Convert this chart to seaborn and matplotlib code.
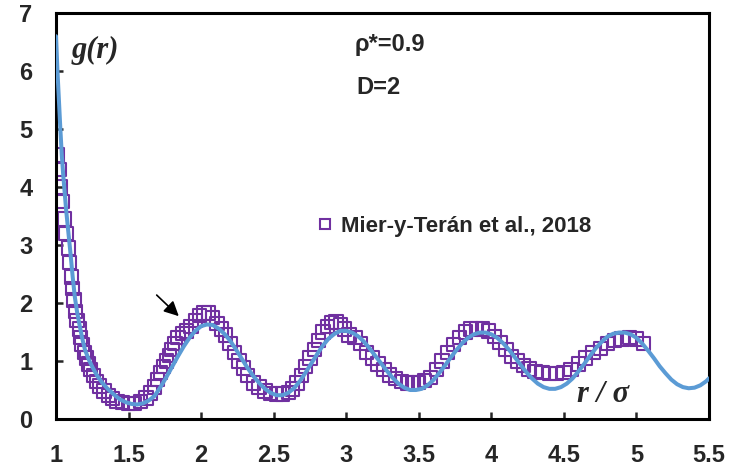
import numpy as np
import pandas as pd
import matplotlib
matplotlib.use("Agg")
import matplotlib.pyplot as plt
import seaborn as sns
from matplotlib.lines import Line2D

# Theory curve (blue line)
r_line = [1.00, 1.01, 1.02, 1.03, 1.04, 1.05, 1.06, 1.07, 1.08, 1.09, 1.10, 1.115, 1.13,
          1.145, 1.16, 1.18, 1.20, 1.225, 1.25, 1.285, 1.32, 1.36, 1.40, 1.44, 1.48,
          1.52, 1.56, 1.60, 1.64, 1.68, 1.72, 1.76, 1.80, 1.84, 1.88, 1.92, 1.96, 2.00,
          2.04, 2.08, 2.12, 2.16, 2.20, 2.24, 2.28, 2.32, 2.36, 2.40, 2.44, 2.48, 2.52,
          2.56, 2.60, 2.64, 2.68, 2.72, 2.76, 2.80, 2.84, 2.88, 2.92, 2.96, 3.00, 3.04,
          3.08, 3.12, 3.16, 3.20, 3.24, 3.28, 3.32, 3.36, 3.40, 3.44, 3.48, 3.52, 3.56,
          3.60, 3.64, 3.68, 3.72, 3.76, 3.80, 3.84, 3.88, 3.92, 3.96, 4.00, 4.04, 4.08,
          4.12, 4.16, 4.20, 4.24, 4.28, 4.32, 4.36, 4.40, 4.44, 4.48, 4.52, 4.56, 4.60,
          4.64, 4.68, 4.72, 4.76, 4.80, 4.84, 4.88, 4.92, 4.96, 5.00, 5.04, 5.08, 5.12,
          5.16, 5.20, 5.24, 5.28, 5.32, 5.36, 5.40, 5.44, 5.48, 5.50]
g_line = [6.6, 6.0, 5.5, 5.0, 4.55, 4.2, 3.9, 3.6, 3.35, 3.1, 2.85, 2.45, 2.1,
          1.85, 1.65, 1.4, 1.19, 1.03, 0.9, 0.74, 0.62, 0.51, 0.42, 0.34, 0.29,
          0.26, 0.25, 0.27, 0.32, 0.4, 0.55, 0.72, 0.9, 1.08, 1.25, 1.4, 1.52, 1.6,
          1.63, 1.62, 1.56, 1.47, 1.35, 1.2, 1.04, 0.88, 0.74, 0.62, 0.52, 0.45, 0.41,
          0.41, 0.45, 0.53, 0.65, 0.8, 0.96, 1.12, 1.27, 1.39, 1.47, 1.52, 1.52, 1.49,
          1.43, 1.34, 1.22, 1.09, 0.96, 0.83, 0.71, 0.61, 0.54, 0.5, 0.5, 0.52, 0.58,
          0.67, 0.79, 0.92, 1.06, 1.19, 1.31, 1.4, 1.46, 1.49, 1.49, 1.46, 1.4, 1.31,
          1.2, 1.07, 0.94, 0.81, 0.7, 0.61, 0.55, 0.52, 0.52, 0.55, 0.61, 0.7, 0.82,
          0.95, 1.09, 1.22, 1.33, 1.42, 1.47, 1.49, 1.49, 1.46, 1.4, 1.3, 1.18, 1.05,
          0.91, 0.79, 0.68, 0.6, 0.55, 0.53, 0.54, 0.58, 0.65, 0.7]

# Simulation data (open squares)
r_sim = [1.01, 1.02, 1.03, 1.045, 1.06, 1.07, 1.085, 1.095, 1.105, 1.115, 1.125, 1.135,
         1.145, 1.16, 1.17, 1.18, 1.195, 1.21, 1.225, 1.24, 1.26, 1.28, 1.30, 1.33, 1.36,
         1.39, 1.42, 1.46, 1.50, 1.54, 1.58, 1.62, 1.65, 1.68, 1.70, 1.72, 1.74, 1.76,
         1.78, 1.80, 1.82, 1.84, 1.87, 1.90, 1.93, 1.96, 1.99, 2.02, 2.05, 2.08, 2.11,
         2.14, 2.17, 2.20, 2.23, 2.26, 2.29, 2.32, 2.36, 2.40, 2.44, 2.48, 2.52, 2.56,
         2.60, 2.63, 2.66, 2.69, 2.72, 2.75, 2.78, 2.81, 2.84, 2.87, 2.90, 2.93, 2.96,
         2.99, 3.02, 3.06, 3.10, 3.14, 3.18, 3.22, 3.26, 3.30, 3.34, 3.38, 3.42, 3.46,
         3.50, 3.54, 3.58, 3.62, 3.66, 3.70, 3.74, 3.78, 3.82, 3.86, 3.90, 3.94, 3.98,
         4.02, 4.06, 4.10, 4.14, 4.18, 4.22, 4.26, 4.30, 4.35, 4.40, 4.45, 4.50, 4.55,
         4.60, 4.65, 4.70, 4.75, 4.80, 4.85, 4.90, 4.95, 5.00, 5.05]
g_sim = [4.55, 4.3, 4.0, 3.75, 3.45, 3.2, 2.95, 2.7, 2.45, 2.25, 2.05, 1.85,
         1.7, 1.55, 1.4, 1.28, 1.15, 1.05, 0.95, 0.85, 0.75, 0.65, 0.57, 0.48, 0.4,
         0.35, 0.3, 0.28, 0.27, 0.27, 0.3, 0.36, 0.45, 0.55, 0.68, 0.8, 0.9, 1.0,
         1.1, 1.2, 1.3, 1.4, 1.47, 1.52, 1.6, 1.7, 1.78, 1.83, 1.83, 1.75, 1.65,
         1.55, 1.45, 1.3, 1.15, 1.0, 0.88, 0.75, 0.62, 0.55, 0.48, 0.44, 0.43, 0.43,
         0.46, 0.52, 0.62, 0.75, 0.9, 1.05, 1.2, 1.35, 1.5, 1.6, 1.66, 1.67, 1.62,
         1.55, 1.45, 1.4, 1.3, 1.15, 1.05, 0.95, 0.85, 0.76, 0.7, 0.65, 0.62, 0.62,
         0.63, 0.66, 0.72, 0.85, 1.0, 1.15, 1.28, 1.4, 1.5, 1.55, 1.56, 1.55, 1.52,
         1.42, 1.32, 1.2, 1.08, 1.0, 0.92, 0.86, 0.82, 0.8, 0.79, 0.79, 0.8, 0.85,
         0.95, 1.05, 1.15, 1.22, 1.3, 1.35, 1.38, 1.4, 1.38, 1.3]

x_ticks = [1, 1.5, 2, 2.5, 3, 3.5, 4, 4.5, 5, 5.5]
x_tick_labels = ["1", "1.5", "2", "2.5", "3", "3.5", "4", "4.5", "5", "5.5"]
y_ticks = [0, 1, 2, 3, 4, 5, 6, 7]
y_tick_labels = ["0", "1", "2", "3", "4", "5", "6", "7"]
legend_label = "Mier-y-Terán et al., 2018"

sns.set_style("white")
SANS = ['Liberation Sans', 'DejaVu Sans']
SERIF = ['Liberation Serif', 'DejaVu Serif']
plt.rcParams['font.family'] = SANS

line_color = "#5B9BD5"
sim_color = "#7030A0"

fig = plt.figure(figsize=(7.51, 4.73), dpi=100)
ax = fig.add_axes([56/751, 1-419/473, (709-56)/751, (419-13)/473])

df_sim = pd.DataFrame({"r": r_sim, "g": g_sim})
df_line = pd.DataFrame({"r": r_line, "g": g_line})

sns.scatterplot(data=df_sim, x="r", y="g", ax=ax, marker="s", s=92,
                facecolors="none", edgecolor=sim_color, linewidth=1.5, zorder=2)
sns.lineplot(data=df_line, x="r", y="g", ax=ax, color=line_color, linewidth=2.9,
             zorder=3, sort=False)

ax.set_xlim(1, 5.5)
ax.set_ylim(0, 7)
ax.set_xticks(x_ticks)
ax.set_xticklabels(x_tick_labels)
ax.set_yticks(y_ticks)
ax.set_yticklabels(y_tick_labels)
ax.set_xlabel("")
ax.set_ylabel("")

for s in ax.spines.values():
    s.set_linewidth(2.2)
    s.set_color("black")

ax.tick_params(axis="x", direction="in", length=5, width=1.8, pad=18,
               labelsize=17, bottom=True, top=False)
ax.tick_params(axis="y", direction="in", length=5, width=1.8, pad=17,
               labelsize=17, left=True, right=False)
for lab in ax.get_xticklabels() + ax.get_yticklabels():
    lab.set_fontweight("bold")

ax.text(1.11, 6.36, "g(r)", fontsize=22, fontweight="bold", fontstyle="italic",
        family=SERIF, ha="left", va="center")
ax.text(3.06, 6.45, "ρ*=0.9", fontsize=17, fontweight="bold", ha="left", va="center")
ax.text(3.07, 5.72, "D=2", fontsize=17, fontweight="bold", ha="left", va="center")
ax.text(4.59, 0.43, "r / σ", fontsize=22, fontweight="bold", fontstyle="italic",
        family=SERIF, ha="left", va="center")

ax.annotate("", xy=(1.86, 1.74), xytext=(1.68, 2.17),
            arrowprops=dict(arrowstyle="-|>", color="black", lw=1.2,
                            mutation_scale=22))

handle = Line2D([], [], marker="s", linestyle="none", markerfacecolor="none",
                markeredgecolor=sim_color, markeredgewidth=1.5, markersize=7)
leg = ax.legend([handle], [legend_label], loc="center left",
                bbox_to_anchor=(0.365, 0.475), frameon=False, handletextpad=0.2,
                handlelength=1.0, prop={"weight": "bold", "size": 16})

fig.savefig("out.png", dpi=100)
